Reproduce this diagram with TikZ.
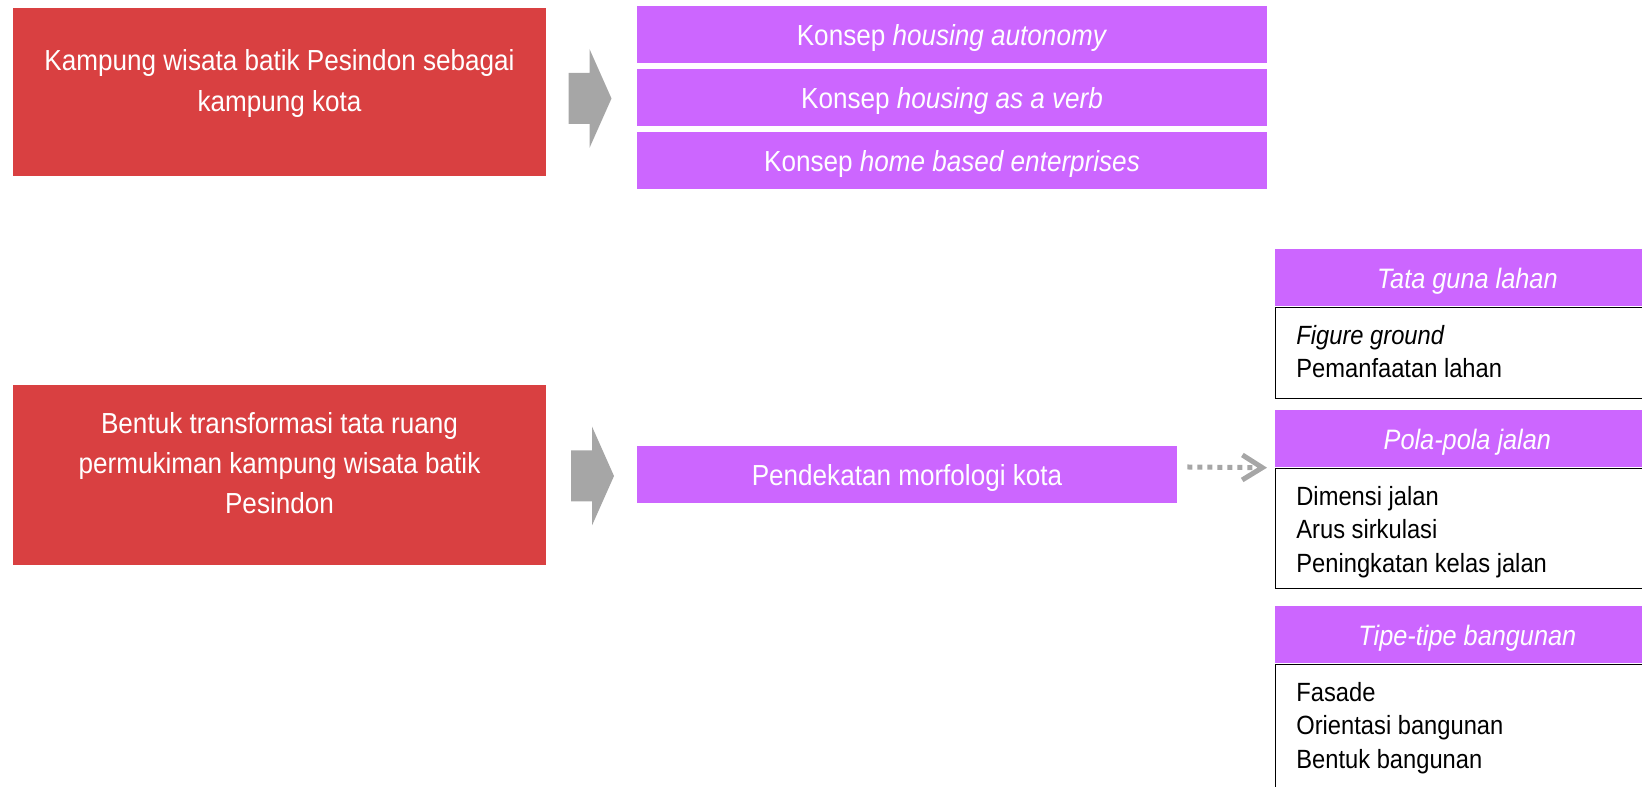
\documentclass[tikz,border=0pt]{standalone}
\usepackage{fontspec}
\setmainfont{Liberation Sans}[FakeStretch=0.9]
\usetikzlibrary{arrows.meta,calc,positioning}
\definecolor{kampungred}{RGB}{217,64,65}
\definecolor{konseppurple}{RGB}{204,102,255}
\definecolor{arrowgray}{RGB}{166,166,166}

\begin{document}
\begin{tikzpicture}[
  redbox/.style={fill=kampungred, minimum width=10.66cm, inner sep=0pt},
  redtext/.style={text=white, align=center, inner sep=0pt,
                  font=\fontsize{16.5}{22.8}\selectfont},
  purplebox/.style={fill=konseppurple, text=white, minimum width=12.60cm,
                    minimum height=1.14cm, inner sep=0pt,
                    text height=0.44cm, text depth=0pt,
                    font=\fontsize{16.5}{20}\selectfont},
  headbox/.style={fill=konseppurple, text=white, minimum width=7.68cm,
                  minimum height=1.14cm, inner sep=0pt, anchor=north west,
                  text height=0.42cm, text depth=0pt,
                  font=\fontsize{16}{19}\selectfont\itshape},
  listbox/.style={draw=black, line width=0.8pt, minimum width=7.68cm,
                  inner sep=0pt, anchor=north west},
  listtext/.style={align=left, inner sep=0pt, anchor=north west,
                   font=\fontsize{15}{19.1}\selectfont},
  fatarrow/.style={fill=arrowgray},
  dotarrow/.style={draw=arrowgray, line width=0.1cm,
                   dash pattern=on 0.1cm off 0.1cm,
                   -{Straight Barb[length=0.4cm,width=0.5cm]}}
]
\clip (0,0) rectangle (32.84,15.74);

% Kampung kota
\node[redbox, minimum height=3.36cm] (kampung) at (5.59,13.90) {};
\node[redtext] (kampungtext) at ([yshift=0.17cm]kampung.center)
  {Kampung wisata batik Pesindon sebagai\\kampung kota};

% Konsep-konsep
\node[purplebox] (autonomy) at (19.04,15.05) {Konsep \textit{housing autonomy}};
\node[purplebox, below=0.11cm of autonomy] (verb) {Konsep \textit{housing as a verb}};
\node[purplebox, below=0.11cm of verb] (enterprises)
  {Konsep \textit{home based enterprises}};

% Bentuk transformasi
\node[redbox, minimum height=3.60cm] (bentuk) at (5.59,6.24) {};
\node[redtext] (bentuktext) at ([yshift=0.24cm]bentuk.center)
  {Bentuk transformasi tata ruang\\permukiman kampung wisata batik\\Pesindon};

\node[purplebox, minimum width=10.80cm] (pendekatan) at (18.14,6.25)
  {Pendekatan morfologi kota};

% Panah besar
\foreach \pos in {(11.37,13.77),(11.42,6.22)}
  \fill[fatarrow, shift={\pos}] (0,0.51) -- (0.42,0.51) -- (0.42,0.99)
    -- (0.86,0) -- (0.42,-0.99) -- (0.42,-0.51) -- (0,-0.51) -- cycle;

% Aspek morfologi
\node[headbox] (tataguna) at (25.50,10.76) {Tata guna lahan};
\node[listbox, minimum height=1.82cm] (tatagunalist) at (tataguna.south west) {};
\node[listtext] (tatagunatext) at ([shift={(0.42,-0.36)}]tatagunalist.north west)
  {\textit{Figure ground}\\Pemanfaatan lahan};

\node[headbox] (pola) at (25.50,7.54) {Pola-pola jalan};
\node[listbox, minimum height=2.40cm] (polalist) at (pola.south west) {};
\node[listtext] (polatext) at ([shift={(0.42,-0.36)}]polalist.north west)
  {Dimensi jalan\\Arus sirkulasi\\Peningkatan kelas jalan};

\node[headbox] (tipe) at (25.50,3.62) {Tipe-tipe bangunan};
\node[listbox, minimum height=2.60cm] (tipelist) at (tipe.south west) {};
\node[listtext] (tipetext) at ([shift={(0.42,-0.36)}]tipelist.north west)
  {Fasade\\Orientasi bangunan\\Bentuk bangunan};

\draw[dotarrow] ($(pendekatan.east)+(0.2,0.15)$) -- ($(pola.south west)+(-0.16,0)$);

\end{tikzpicture}
\end{document}
